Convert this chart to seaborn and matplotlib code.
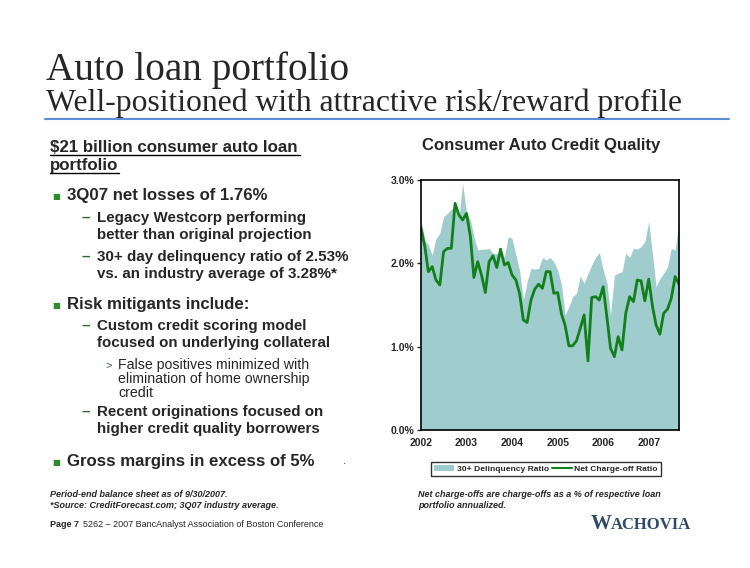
import pandas as pd
import numpy as np
import matplotlib
matplotlib.use('Agg')
import matplotlib.pyplot as plt
from matplotlib.patches import Patch
from matplotlib.lines import Line2D
import seaborn as sns

# Dados mensais jan/2002 - set/2007 (%)
delinquencia = [2.52, 2.28, 2.22, 2.10, 2.30, 2.36, 2.56, 2.60, 2.65, 2.67,
                2.55, 2.96, 2.60, 2.52, 2.32, 2.16, 2.17, 2.17, 2.18, 2.12,
                2.12, 2.09, 2.08, 2.32, 2.30, 2.10, 1.92, 1.56, 1.78, 1.94,
                1.93, 1.94, 2.07, 2.04, 2.07, 2.02, 1.92, 1.74, 1.38, 1.48,
                1.60, 1.64, 1.85, 1.76, 1.88, 1.98, 2.07, 2.13, 1.92, 1.76,
                1.38, 1.86, 1.88, 1.90, 2.12, 2.07, 2.18, 2.17, 2.20, 2.26,
                2.50, 2.10, 1.72, 1.82, 1.88, 1.96, 2.18, 2.16, 2.50]
charge_off = [2.42, 2.20, 1.90, 1.96, 1.80, 1.74, 2.14, 2.18, 2.18, 2.72,
              2.58, 2.52, 2.60, 2.32, 1.83, 2.02, 1.86, 1.65, 2.02, 2.09,
              1.95, 2.17, 1.98, 2.01, 1.86, 1.80, 1.64, 1.32, 1.29, 1.56,
              1.69, 1.75, 1.70, 1.90, 1.90, 1.64, 1.65, 1.39, 1.26, 1.01,
              1.01, 1.07, 1.22, 1.38, 0.83, 1.59, 1.60, 1.56, 1.72, 1.34,
              0.98, 0.88, 1.12, 0.96, 1.40, 1.60, 1.54, 1.80, 1.79, 1.55,
              1.81, 1.48, 1.26, 1.15, 1.40, 1.45, 1.58, 1.84, 1.75]
anos = ['2002', '2003', '2004', '2005', '2006', '2007']
y_ticks = [0, 1, 2, 3]

meses = pd.date_range('2002-01-01', periods=len(charge_off), freq='MS')
dados = pd.DataFrame({'mes': meses, 'delinq': delinquencia, 'nco': charge_off})

cor_area = '#9fcdcd'
cor_linha = '#12801a'

sns.set_style('white')
plt.rcParams['font.family'] = ['Liberation Sans', 'DejaVu Sans']

fig = plt.figure(figsize=(7.5, 5.68), dpi=100)
W, H = 750, 568

def txt(x, y, s, **kw):
    fig.text(x / W, 1 - y / H, s, va='baseline', **kw)

# Titulo
txt(46, 80, 'Auto loan portfolio', fontsize=28.3, family='Liberation Serif')
txt(46, 111, 'Well-positioned with attractive risk/reward profile', fontsize=22.8, family='Liberation Serif')
fig.add_artist(Line2D([45 / W, 729 / W], [1 - 119 / H, 1 - 119 / H], color='#5b8fd1', lw=1.5))

# Texto da esquerda
txt(50, 152, '$21 billion consumer auto loan', fontsize=12.2, weight='bold')
txt(50, 170, 'portfolio', fontsize=12.2, weight='bold')
for y0, x1 in [(155, 300), (173, 119)]:
    fig.add_artist(Line2D([50 / W, x1 / W], [1 - y0 / H, 1 - y0 / H], color='black', lw=1))

bullets = [(200, '3Q07 net losses of 1.76%'), (309, 'Risk mitigants include:'),
           (466, 'Gross margins in excess of 5%')]
for y, s in bullets:
    txt(52, y - 1, '■', fontsize=6, color='#2e8b2e', family='DejaVu Sans')
    txt(67, y, s, fontsize=12.1, weight='bold')

subs = [(222, 'Legacy Westcorp performing'), (239, 'better than original projection'),
        (261, '30+ day delinquency ratio of 2.53%'), (278, 'vs. an industry average of 3.28%*'),
        (330, 'Custom credit scoring model'), (347, 'focused on underlying collateral'),
        (416, 'Recent originations focused on'), (433, 'higher credit quality borrowers')]
for i, (y, s) in enumerate(subs):
    if i % 2 == 0:
        txt(81, y, '–', fontsize=11, weight='bold', color='#2e6b2e')
    txt(97, y, s, fontsize=10.9, weight='bold')

txt(106, 369, '>', fontsize=8, color='#2e6b2e')
for y, s in [(369, 'False positives minimized with'), (383, 'elimination of home ownership'), (397, 'credit')]:
    txt(118, y, s, fontsize=10.2)
txt(343, 464, '.', fontsize=8)

# Grafico
fig.text(541 / W, 1 - 150 / H, 'Consumer Auto Credit Quality', ha='center', va='baseline',
         fontsize=12.1, weight='bold')
ax = fig.add_axes([421 / W, 1 - 430 / H, (679 - 421) / W, (430 - 180) / H])
ax.fill_between(dados['mes'], 0, dados['delinq'], color=cor_area, lw=0)
sns.lineplot(data=dados, x='mes', y='nco', ax=ax, color=cor_linha, lw=2)
ax.set_xlim(meses[0], meses[-1])
ax.set_ylim(0, 3)
ax.set_yticks(y_ticks)
ax.set_yticklabels([f'{v:.1f}%' for v in y_ticks], fontsize=7.5, weight='bold')
ax.set_xticks(pd.to_datetime([a + '-01-01' for a in anos]))
ax.set_xticklabels(anos, fontsize=7.5, weight='bold')
ax.tick_params(axis='y', length=3, width=1, direction='out', left=True, pad=2)
ax.tick_params(axis='x', length=0, pad=6)
ax.set_xlabel('')
ax.set_ylabel('')
for sp in ax.spines.values():
    sp.set_color('black')
    sp.set_linewidth(1.2)

handles = [Patch(facecolor=cor_area, edgecolor='none', label='30+ Delinquency Ratio'),
           Line2D([], [], color=cor_linha, lw=1.5, label='Net Charge-off Ratio')]
leg = fig.legend(handles=handles, loc='center', bbox_to_anchor=(546 / W, 1 - 469 / H), ncol=2,
                 frameon=True, fancybox=False, prop={'size': 6.1, 'weight': 'bold'},
                 handlelength=2.4, handleheight=0.8, columnspacing=0.3, handletextpad=0.3,
                 borderpad=0.35, borderaxespad=0)
leg.get_frame().set_edgecolor('black')
leg.get_frame().set_linewidth(1)

# Rodape
txt(50, 497, 'Period-end balance sheet as of 9/30/2007.', fontsize=6.5, style='italic', weight='bold')
txt(50, 508, '*Source: CreditForecast.com; 3Q07 industry average.', fontsize=6.5, style='italic', weight='bold')
txt(418, 497, 'Net charge-offs are charge-offs as a % of respective loan', fontsize=6.5, style='italic', weight='bold')
txt(418, 508, 'portfolio annualized.', fontsize=6.5, style='italic', weight='bold')
txt(50, 527, 'Page 7', fontsize=6.5, weight='bold')
txt(83, 527, '5262 – 2007 BancAnalyst Association of Boston Conference', fontsize=6.5)
txt(591, 529, 'W', fontsize=15, family='Liberation Serif', weight='bold', color='#2f4a66')
txt(611, 529, 'ACHOVIA', fontsize=12, family='Liberation Serif', weight='bold', color='#2f4a66')

fig.savefig('out.png', dpi=100)
